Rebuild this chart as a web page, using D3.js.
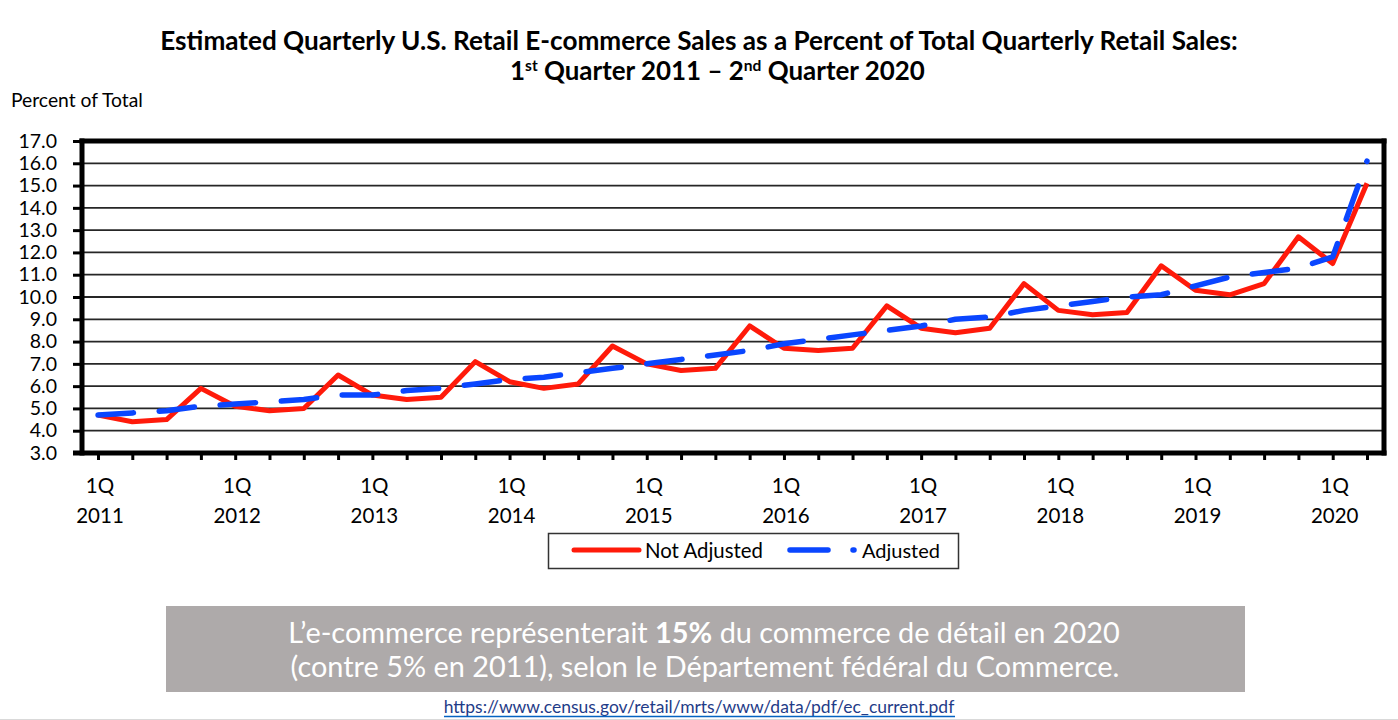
<!DOCTYPE html>
<html>
<head>
<meta charset="utf-8">
<script src="https://cdn.jsdelivr.net/npm/d3@7"></script>
<style>
  html, body { margin: 0; padding: 0; background: #fff; }
  svg { display: block; font-family: Lato, "Open Sans", sans-serif; }
</style>
</head>
<body>
<svg id="chart" width="1398" height="720"></svg>
<script>
// ---------------- DATA ----------------
const quarters = [
  "2011Q1","2011Q2","2011Q3","2011Q4",
  "2012Q1","2012Q2","2012Q3","2012Q4",
  "2013Q1","2013Q2","2013Q3","2013Q4",
  "2014Q1","2014Q2","2014Q3","2014Q4",
  "2015Q1","2015Q2","2015Q3","2015Q4",
  "2016Q1","2016Q2","2016Q3","2016Q4",
  "2017Q1","2017Q2","2017Q3","2017Q4",
  "2018Q1","2018Q2","2018Q3","2018Q4",
  "2019Q1","2019Q2","2019Q3","2019Q4",
  "2020Q1","2020Q2"
];
const notAdjusted = [
  4.7, 4.4, 4.5, 5.9,
  5.1, 4.9, 5.0, 6.5,
  5.6, 5.4, 5.5, 7.1,
  6.2, 5.9, 6.1, 7.8,
  7.0, 6.7, 6.8, 8.7,
  7.7, 7.6, 7.7, 9.6,
  8.6, 8.4, 8.6, 10.6,
  9.4, 9.2, 9.3, 11.4,
  10.3, 10.1, 10.6, 12.7,
  11.5, 15.1
];
const adjusted = [
  4.7, 4.8, 4.9, 5.1,
  5.2, 5.3, 5.4, 5.6,
  5.6, 5.8, 5.9, 6.1,
  6.3, 6.4, 6.6, 6.8,
  7.0, 7.2, 7.4, 7.6,
  7.9, 8.1, 8.3, 8.5,
  8.7, 9.0, 9.1, 9.4,
  9.6, 9.8, 10.0, 10.1,
  10.5, 10.9, 11.1, 11.3,
  11.8, 16.1
];
const yTicks = [3,4,5,6,7,8,9,10,11,12,13,14,15,16,17];
const labelQuarters = ["2011Q1","2012Q1","2013Q1","2014Q1","2015Q1","2016Q1","2017Q1","2018Q1","2019Q1","2020Q1"];
const labelYears = ["2011","2012","2013","2014","2015","2016","2017","2018","2019","2020"];
const quarterLabel = "1Q";
const seriesNames = ["Not Adjusted", "Adjusted"];
const titleLine1 = "Estimated Quarterly U.S. Retail E-commerce Sales as a Percent of Total Quarterly Retail Sales:";
const yAxisTitle = "Percent of Total";
const captionLine1 = ["L\u2019e-commerce représenterait ", "15%", " du commerce de détail en 2020"];
const captionLine2 = "(contre 5% en 2011), selon le Département fédéral du Commerce.";
const sourceUrl = "https://www.census.gov/retail/mrts/www/data/pdf/ec_current.pdf";

// ---------------- LAYOUT ----------------
const svg = d3.select("#chart");
const L = 82, R = 1384, T = 141, B = 453;
const RED = "#ff1a0a", BLUE = "#0a46ff";

const x = d3.scalePoint().domain(quarters).range([98, 1367]);
const y = d3.scaleLinear().domain([3, 17]).range([B, T]);

function fit(sel, target) {
  const fs = parseFloat(sel.attr("font-size"));
  const w = sel.node().getComputedTextLength();
  sel.attr("font-size", (fs * target / w).toFixed(2));
  return fs * target / w;
}

// Title
const t1 = svg.append("text").attr("x", 699).attr("y", 50).attr("text-anchor", "middle")
  .attr("font-weight", 700).attr("font-size", 24).attr("fill", "#000").text(titleLine1);
fit(t1, 1078);
const t2 = svg.append("text").attr("x", 510).attr("y", 80)
  .attr("font-weight", 700).attr("font-size", 24).attr("fill", "#000");
t2.append("tspan").text("1");
t2.append("tspan").attr("font-size", "0.6em").attr("dy", -9).text("st");
t2.append("tspan").attr("dy", 9).text(" Quarter 2011 \u2013 2");
t2.append("tspan").attr("font-size", "0.6em").attr("dy", -9).text("nd");
t2.append("tspan").attr("dy", 9).text(" Quarter 2020");
fit(t2, 415);

// Y axis title
const yt = svg.append("text").attr("x", 11).attr("y", 107).attr("font-size", 16).attr("fill", "#000").text(yAxisTitle);
fit(yt, 132);

// Gridlines
svg.append("g").selectAll("line").data(yTicks.filter(v => v > 3 && v < 17)).join("line")
  .attr("x1", L).attr("x2", R).attr("y1", d => y(d)).attr("y2", d => y(d))
  .attr("stroke", "#262626").attr("stroke-width", 1.8);

// Y axis
const yAxis = svg.append("g").attr("transform", `translate(${L},0)`)
  .call(d3.axisLeft(y).tickValues(yTicks).tickFormat(d3.format(".1f")).tickSize(9).tickPadding(16).tickSizeOuter(0));
yAxis.select(".domain").remove();
yAxis.selectAll(".tick line").attr("stroke", "#000").attr("stroke-width", 3);
yAxis.selectAll(".tick text").attr("font-size", 19.5).attr("fill", "#000").attr("font-family", "Lato, sans-serif");

// X axis ticks
const xAxis = svg.append("g").attr("transform", `translate(0,${B})`)
  .call(d3.axisBottom(x).tickFormat("").tickSize(7).tickSizeOuter(0));
xAxis.select(".domain").remove();
xAxis.selectAll(".tick line").attr("stroke", "#000").attr("stroke-width", 3);

// X labels
const xl = svg.append("g").selectAll("g").data(labelQuarters).join("g")
  .attr("transform", d => `translate(${x(d) + 2},0)`);
xl.append("text").attr("y", 493).attr("text-anchor", "middle").attr("font-size", 20.5).attr("fill", "#000").text(quarterLabel);
xl.append("text").attr("y", 523).attr("text-anchor", "middle").attr("font-size", 20.5).attr("fill", "#000").text((d, i) => labelYears[i]);

// Frame
const frame = svg.append("g").attr("stroke", "#000").attr("stroke-width", 5).attr("fill", "none");
frame.append("line").attr("x1", L).attr("x2", L).attr("y1", T - 2.5).attr("y2", B + 2.5);
frame.append("line").attr("x1", 73).attr("x2", R + 2.5).attr("y1", B).attr("y2", B);
frame.append("line").attr("x1", L - 2.5).attr("x2", R + 2.5).attr("y1", T).attr("y2", T);
frame.append("line").attr("x1", R).attr("x2", R).attr("y1", T - 2.5).attr("y2", B + 2.5);

// Lines
const line = d3.line().x((d, i) => x(quarters[i])).y(d => y(d));
svg.append("path").datum(notAdjusted).attr("d", line)
  .attr("fill", "none").attr("stroke", RED).attr("stroke-width", 5).attr("stroke-linejoin", "round");
const adjPath = svg.append("path").datum(adjusted).attr("d", line)
  .attr("fill", "none").attr("stroke", BLUE).attr("stroke-width", 5.5)
  .attr("stroke-linecap", "round").attr("stroke-linejoin", "round");
// make the dash pattern end on a dot at the last point, as in the original
const totalLen = adjPath.node().getTotalLength();
const nPeriods = Math.round(totalLen / 62);
const period = (totalLen - 0.5) / nPeriods;
adjPath.attr("stroke-dasharray", `${(period * 0.58).toFixed(2)} ${(period * 0.42).toFixed(2)}`);

// Legend
const lg = svg.append("g");
lg.append("rect").attr("x", 548.5).attr("y", 533.5).attr("width", 410).attr("height", 35)
  .attr("fill", "#fff").attr("stroke", "#333").attr("stroke-width", 1.5);
lg.append("line").attr("x1", 574).attr("x2", 639).attr("y1", 550).attr("y2", 550)
  .attr("stroke", RED).attr("stroke-width", 5).attr("stroke-linecap", "round");
const lt1 = lg.append("text").attr("x", 645).attr("y", 558).attr("font-size", 19).attr("fill", "#000").text(seriesNames[0]);
fit(lt1, 118);
lg.append("line").attr("x1", 790).attr("x2", 854).attr("y1", 550).attr("y2", 550)
  .attr("stroke", BLUE).attr("stroke-width", 5.5).attr("stroke-linecap", "round").attr("stroke-dasharray", "38 25");
const lt2 = lg.append("text").attr("x", 862).attr("y", 558).attr("font-size", 19).attr("fill", "#000").text(seriesNames[1]);
fit(lt2, 78);

// Caption box
svg.append("rect").attr("x", 166).attr("y", 606).attr("width", 1079).attr("height", 86).attr("fill", "#AEAAAA");
const c1 = svg.append("text").attr("x", 704).attr("y", 643).attr("text-anchor", "middle")
  .attr("font-size", 27).attr("fill", "#fff");
c1.append("tspan").text(captionLine1[0]);
c1.append("tspan").attr("font-weight", 700).text(captionLine1[1]);
c1.append("tspan").text(captionLine1[2]);
const cfs = fit(c1, 832);
svg.append("text").attr("x", 705).attr("y", 677).attr("text-anchor", "middle")
  .attr("font-size", cfs.toFixed(2)).attr("fill", "#fff").text(captionLine2);

// Source link
const link = svg.append("text").attr("x", 699).attr("y", 713).attr("text-anchor", "middle")
  .attr("font-size", 15).attr("fill", "#1f3c88").text(sourceUrl);
fit(link, 511);
svg.append("line").attr("x1", 444).attr("x2", 955).attr("y1", 716.5).attr("y2", 716.5)
  .attr("stroke", "#0563c1").attr("stroke-width", 1.6);
svg.append("line").attr("x1", 0).attr("x2", 1398).attr("y1", 719.5).attr("y2", 719.5)
  .attr("stroke", "#d9d9d9").attr("stroke-width", 1);
</script>
</body>
</html>
